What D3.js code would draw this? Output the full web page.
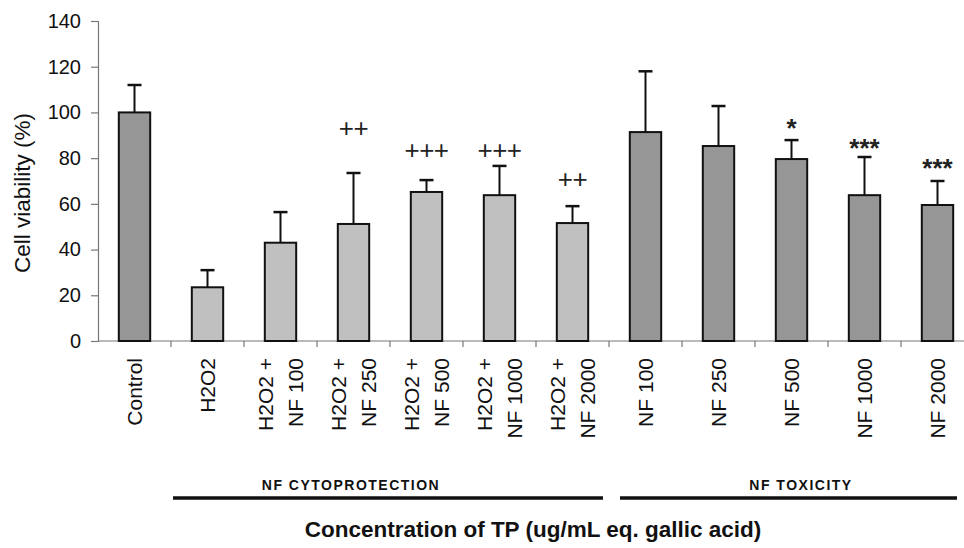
<!DOCTYPE html>
<html>
<head>
<meta charset="utf-8">
<script src="https://cdn.jsdelivr.net/npm/d3@7"></script>
<style>
  body { margin: 0; background: #fff; }
  svg { display: block; font-family: "Liberation Sans", Arial, sans-serif; }
</style>
</head>
<body>
<div id="chart"></div>
<script>
// categories, in order along the x axis
const categories = ["Control", "H2O2", "H2O2+NF100", "H2O2+NF250", "H2O2+NF500", "H2O2+NF1000",
    "H2O2+NF2000", "NF100", "NF250", "NF500", "NF1000", "NF2000"];
const tickLabels = [["Control"], ["H2O2"], ["H2O2 +", "NF 100"], ["H2O2 +", "NF 250"],
    ["H2O2 +", "NF 500"], ["H2O2 +", "NF 1000"], ["H2O2 +", "NF 2000"],
    ["NF 100"], ["NF 250"], ["NF 500"], ["NF 1000"], ["NF 2000"]];
// mean cell viability (%) and upper error bar end
const viability = [100, 23.5, 43, 51.2, 65.2, 63.8, 51.6, 91.4, 85.3, 79.6, 63.8, 59.5];
const errorTop = [112, 31, 56.4, 73.5, 70.4, 76.6, 59, 118, 102.8, 87.9, 80.5, 70];
// bar style group: 0 = control / toxicity (dark), 1 = cytoprotection (light)
const shade = [0, 1, 1, 1, 1, 1, 1, 0, 0, 0, 0, 0];
// significance marks and the value level they are centred on
const marks = ["", "", "", "++", "+++", "+++", "++", "", "", "*", "***", "***"];
const markLevel = [0, 0, 0, 93.2, 83.6, 83.6, 70.9, 0, 0, 95.8, 87, 78.3];
const yTicks = [0, 20, 40, 60, 80, 100, 120, 140];

const width = 964, height = 548;
const svg = d3.select("#chart").append("svg")
    .attr("width", width)
    .attr("height", height);

const x = d3.scaleBand()
    .domain(categories)
    .range([98, 98 + 12 * 73])
    .padding(0);

const y = d3.scaleLinear()
    .domain([0, 140])
    .range([341, 21]);

const fills = ["#969696", "#c0c0c0"];
const barW = x.bandwidth() * 0.43;

// y axis
const yAxis = svg.append("g")
    .attr("transform", "translate(98,0)")
    .call(d3.axisLeft(y).tickValues(yTicks).tickSize(7).tickPadding(10));
yAxis.select(".domain").attr("stroke", "#777").attr("stroke-width", 1.2);
yAxis.selectAll(".tick line").attr("stroke", "#777").attr("stroke-width", 1.2);
yAxis.selectAll(".tick text")
    .attr("font-size", 20)
    .attr("fill", "#111")
    .attr("font-family", "Liberation Sans, Arial, sans-serif");

// x axis line and ticks at band boundaries
const xg = svg.append("g");
xg.append("line")
    .attr("x1", 98).attr("x2", width)
    .attr("y1", y(0)).attr("y2", y(0))
    .attr("stroke", "#777").attr("stroke-width", 1.2);
const bounds = categories.map(c => x(c)).slice(1).concat([x.range()[1]]);
xg.selectAll("line.tk").data(bounds).join("line")
    .attr("class", "tk")
    .attr("x1", d => d).attr("x2", d => d)
    .attr("y1", y(0)).attr("y2", y(0) + 6)
    .attr("stroke", "#777").attr("stroke-width", 1.2);

// category labels, rotated
categories.forEach((c, i) => {
    const lines = tickLabels[i];
    const cx = x(c) + x.bandwidth() / 2;
    lines.forEach((t, j) => {
        const off = (j - (lines.length - 1) / 2) * 30;
        svg.append("text")
            .attr("transform", `translate(${cx + off},358) rotate(-90)`)
            .attr("text-anchor", "end")
            .attr("dy", "0.36em")
            .attr("font-size", 21)
            .attr("fill", "#111")
            .text(t);
    });
});

// error bars (upper only)
const err = svg.append("g");
categories.forEach((c, i) => {
    const cx = x(c) + x.bandwidth() / 2;
    err.append("line")
        .attr("x1", cx).attr("x2", cx)
        .attr("y1", y(viability[i])).attr("y2", y(errorTop[i]))
        .attr("stroke", "#111").attr("stroke-width", 2);
    err.append("line")
        .attr("x1", cx - 7).attr("x2", cx + 7)
        .attr("y1", y(errorTop[i])).attr("y2", y(errorTop[i]))
        .attr("stroke", "#111").attr("stroke-width", 2.5);
});

// bars
svg.append("g").selectAll("rect")
    .data(categories)
    .join("rect")
    .attr("x", d => x(d) + (x.bandwidth() - barW) / 2)
    .attr("y", (d, i) => y(viability[i]))
    .attr("width", barW)
    .attr("height", (d, i) => y(0) - y(viability[i]))
    .attr("fill", (d, i) => fills[shade[i]])
    .attr("stroke", "#111")
    .attr("stroke-width", 2);

// significance marks
categories.forEach((c, i) => {
    if (!marks[i]) return;
    const cx = x(c) + x.bandwidth() / 2;
    const isStar = marks[i][0] === "*";
    svg.append("text")
        .attr("x", cx)
        .attr("y", y(markLevel[i]) + (isStar ? 15 : 9))
        .attr("text-anchor", "middle")
        .attr("font-size", isStar ? 26 : 26)
        .attr("font-weight", isStar ? "bold" : "normal")
        .attr("letter-spacing", isStar ? 0 : -0.5)
        .attr("fill", "#222")
        .text(marks[i]);
});

// y axis title
svg.append("text")
    .attr("transform", "translate(22,193) rotate(-90)")
    .attr("text-anchor", "middle")
    .attr("dy", "0.36em")
    .attr("font-size", 22.5)
    .attr("fill", "#111")
    .text("Cell viability (%)");

// group brackets under the axis
const groupNames = ["NF CYTOPROTECTION", "NF TOXICITY"];
const groupStart = [x(categories[1]) + 2, x(categories[7]) + 11];
const groupEnd = [x(categories[7]) - 6, x.range()[1] - 17];
const groupLabelX = [x(categories[3]) + 34, x(categories[9]) + 46];
groupNames.forEach((g, i) => {
    svg.append("line")
        .attr("x1", groupStart[i]).attr("x2", groupEnd[i])
        .attr("y1", 498).attr("y2", 498)
        .attr("stroke", "#111").attr("stroke-width", 3.5);
    svg.append("text")
        .attr("x", groupLabelX[i])
        .attr("y", 490)
        .attr("text-anchor", "middle")
        .attr("font-size", 14)
        .attr("font-weight", "bold")
        .attr("letter-spacing", 1.5)
        .attr("fill", "#111")
        .text(g);
});

// x axis title
svg.append("text")
    .attr("x", 533)
    .attr("y", 537)
    .attr("text-anchor", "middle")
    .attr("font-size", 22.5)
    .attr("font-weight", "bold")
    .attr("fill", "#111")
    .text("Concentration of TP (ug/mL eq. gallic acid)");
</script>
</body>
</html>
